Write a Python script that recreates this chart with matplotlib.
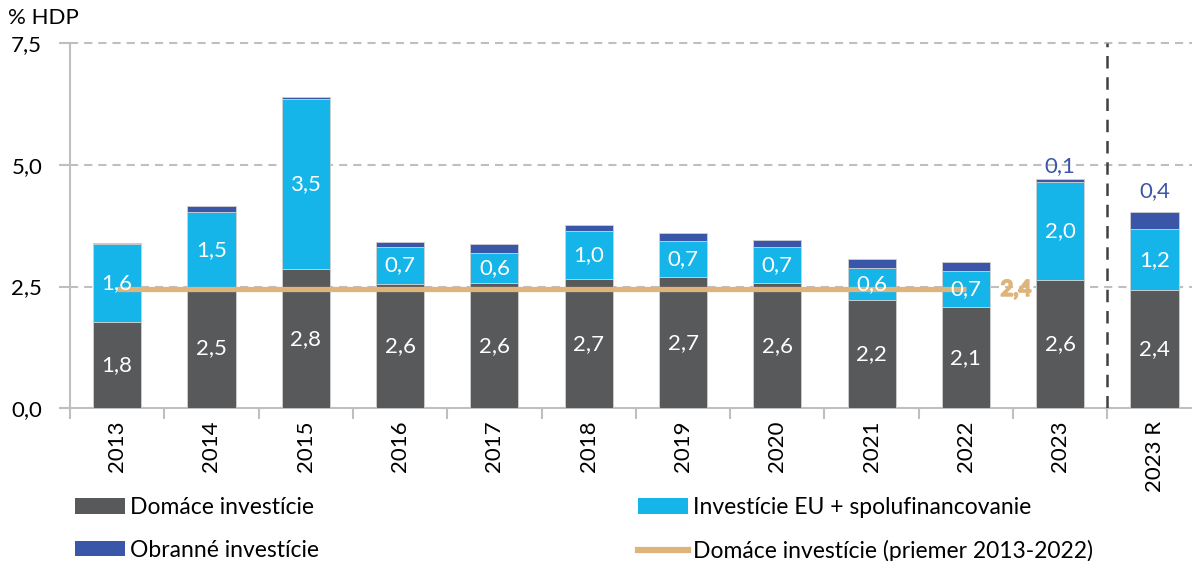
import matplotlib
matplotlib.use("Agg")
import matplotlib.pyplot as plt
import matplotlib.patheffects as pe
import numpy as np
from matplotlib.patches import Patch
from matplotlib.lines import Line2D

# ---------------- data ----------------
categories = ["2013", "2014", "2015", "2016", "2017", "2018", "2019",
              "2020", "2021", "2022", "2023", "2023 R"]
domestic = [1.77, 2.48, 2.86, 2.55, 2.57, 2.65, 2.69, 2.57, 2.22, 2.07, 2.64, 2.42]
eu = [1.60, 1.55, 3.48, 0.76, 0.62, 0.99, 0.74, 0.74, 0.66, 0.75, 2.00, 1.26]
defense = [0.02, 0.12, 0.06, 0.10, 0.18, 0.13, 0.16, 0.14, 0.18, 0.19, 0.07, 0.35]
domestic_labels = ["1,8", "2,5", "2,8", "2,6", "2,6", "2,7", "2,7", "2,6", "2,2", "2,1", "2,6", "2,4"]
eu_labels = ["1,6", "1,5", "3,5", "0,7", "0,6", "1,0", "0,7", "0,7", "0,6", "0,7", "2,0", "1,2"]
defense_labels = ["", "", "", "", "", "", "", "", "", "", "0,1", "0,4"]
avg_domestic = 2.44
avg_label = "2,4"
avg_first, avg_last = 0, 9   # average spans 2013..2022
yticks = [0.0, 2.5, 5.0, 7.5]
ytick_labels = ["0,0", "2,5", "5,0", "7,5"]

# ---------------- style ----------------
C_DOM = "#58595B"
C_EU = "#15B5E9"
C_DEF = "#3A56A8"
C_AVG = "#DEB47B"
C_GRID = "#BFBFBF"
FONT = "Lato"
FS = 16
FS_LEG = 16.5

plt.rcParams["font.family"] = [FONT, "DejaVu Sans"]

fig = plt.figure(figsize=(11.92, 5.61), dpi=100)
ax = fig.add_axes([70 / 1192, 1 - 408.3 / 561, 1131.7 / 1192, 365.3 / 561])

x = np.arange(len(categories))
w = 0.51
dom = np.array(domestic)
e = np.array(eu)
d = np.array(defense)

ax.bar(x, dom, w, color=C_DOM, edgecolor="#D0D0D0", linewidth=0.6, zorder=3)
ax.bar(x, e, w, bottom=dom, color=C_EU, edgecolor="#D0D0D0", linewidth=0.6, zorder=3)
ax.bar(x, d, w, bottom=dom + e, color=C_DEF, edgecolor="#D0D0D0", linewidth=0.6, zorder=3)

# average line
ax.plot([x[avg_first], x[avg_last]], [avg_domestic, avg_domestic], color=C_AVG,
        lw=3.8, solid_capstyle="butt", zorder=4)
ax.annotate(avg_label, (x[avg_last], avg_domestic), xytext=(36, 0), textcoords="offset points",
            ha="center", va="center", color=C_AVG, fontsize=FS, fontweight="bold", zorder=6,
            path_effects=[pe.withStroke(linewidth=1.1, foreground=C_AVG)])

# labels inside segments
for i in range(len(x)):
    ax.text(x[i], dom[i] / 2, domestic_labels[i], ha="center", va="center",
            color="white", fontsize=FS, zorder=6)
    ax.text(x[i], dom[i] + e[i] / 2, eu_labels[i], ha="center", va="center",
            color="white", fontsize=FS, zorder=6)
def_offsets = {10: 9, 11: 15}
for i in range(len(x)):
    if defense_labels[i]:
        ax.annotate(defense_labels[i], (x[i], dom[i] + e[i] + d[i]),
                    xytext=(0, def_offsets.get(i, 10)), textcoords="offset points",
                    ha="center", va="center", color=C_DEF, fontsize=FS, zorder=6)

# grid lines
for yv in yticks[1:]:
    ax.axhline(yv, color=C_GRID, lw=1.5, linestyle=(0, (3.9, 2.9)), zorder=1, clip_on=False)

# vertical separator
ax.plot([10.5, 10.5], [0, 7.5], color="#404040", lw=1.8, linestyle=(0, (5, 3.5)), zorder=5)

ax.set_xlim(-0.5, len(categories) - 0.5)
ax.set_ylim(0, 7.5)

ax.set_yticks(yticks)
ax.set_yticklabels(ytick_labels, fontsize=FS)
ax.tick_params(axis="y", length=8, width=1.5, color=C_GRID, pad=12)

ax.set_xticks(x)
ax.set_xticklabels(categories, rotation=90, fontsize=FS)
ax.set_xticks(np.arange(-0.5, len(categories), 1.0), minor=True)
ax.tick_params(axis="x", which="major", length=0, pad=9)
ax.tick_params(axis="x", which="minor", length=8, width=1.5, color=C_GRID)

for s in ["top", "right"]:
    ax.spines[s].set_visible(False)
for s in ["left", "bottom"]:
    ax.spines[s].set_color(C_GRID)
    ax.spines[s].set_linewidth(1.5)
    ax.spines[s].set_zorder(2)

fig.text(8 / 1192, 1 - 18 / 561, "% HDP", fontsize=FS, ha="left", va="center")

# legends
h_dom = Patch(facecolor=C_DOM)
h_eu = Patch(facecolor=C_EU)
h_def = Patch(facecolor=C_DEF)
h_avg = Line2D([], [], color=C_AVG, lw=4.5)
common = dict(frameon=False, fontsize=FS_LEG, handlelength=2.2, handleheight=0.65,
              handletextpad=0.2, labelspacing=0.95, borderaxespad=0, borderpad=0)
leg1 = fig.legend([h_dom, h_def], ["Domáce investície", "Obranné investície"],
                  loc="upper left", bbox_to_anchor=(75 / 1192, 1 - 497 / 561), **common)
leg2 = fig.legend([h_eu, h_avg], ["Investície EU + spolufinancovanie",
                                  "Domáce investície (priemer 2013-2022)"],
                  loc="upper left", bbox_to_anchor=(638 / 1192, 1 - 497 / 561), **common)

fig.savefig("out.png", dpi=100)
